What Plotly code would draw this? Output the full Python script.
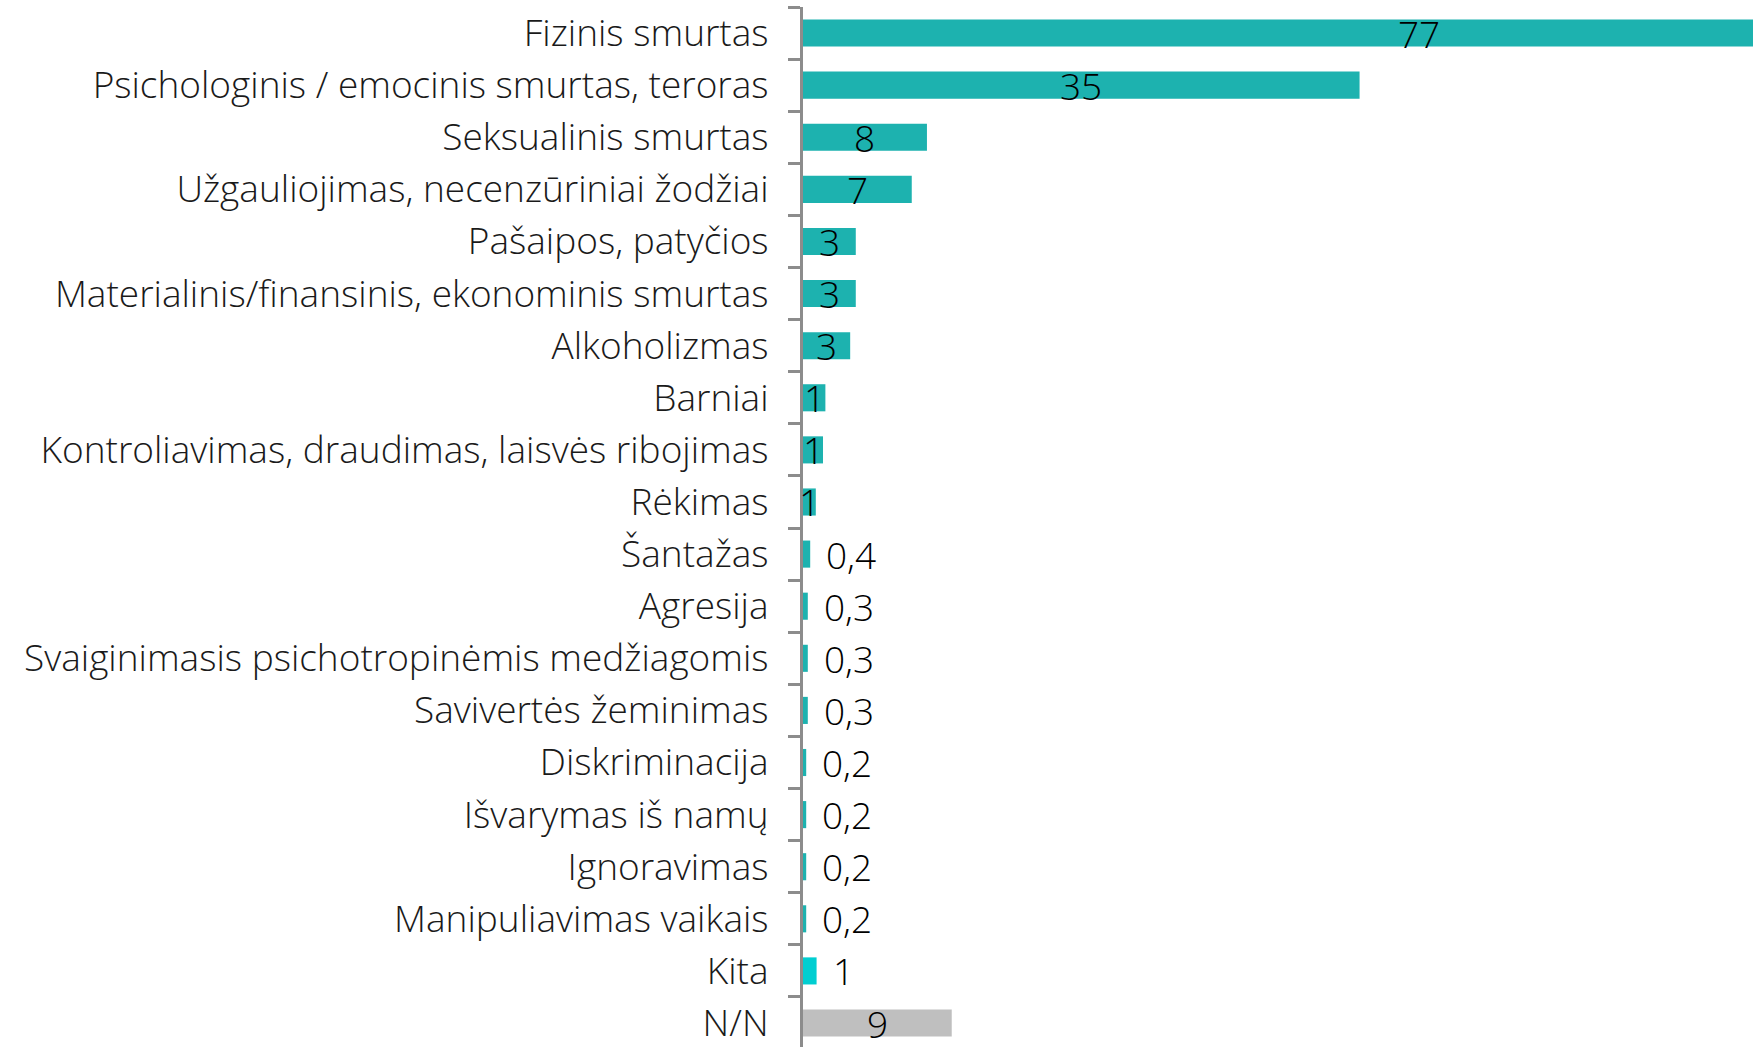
import plotly.graph_objects as go

categories = [
    "Fizinis smurtas",
    "Psichologinis / emocinis smurtas, teroras",
    "Seksualinis smurtas",
    "Užgauliojimas, necenzūriniai žodžiai",
    "Pašaipos, patyčios",
    "Materialinis/finansinis, ekonominis smurtas",
    "Alkoholizmas",
    "Barniai",
    "Kontroliavimas, draudimas, laisvės ribojimas",
    "Rėkimas",
    "Šantažas",
    "Agresija",
    "Svaiginimasis psichotropinėmis medžiagomis",
    "Savivertės žeminimas",
    "Diskriminacija",
    "Išvarymas iš namų",
    "Ignoravimas",
    "Manipuliavimas vaikais",
    "Kita",
    "N/N",
]
values = [77, 34.8, 7.75, 6.8, 3.3, 3.3, 2.95, 1.4, 1.25, 0.8,
          0.45, 0.3, 0.3, 0.3, 0.2, 0.2, 0.2, 0.2, 0.85, 9.3]
value_labels = ["77", "35", "8", "7", "3", "3", "3", "1", "1", "1",
                "0,4", "0,3", "0,3", "0,3", "0,2", "0,2", "0,2", "0,2", "1", "9"]

# styling (not data)
TEAL = "#1DB2AF"
CYAN = "#00CED1"
GREY = "#BFBFBF"
bar_colors = [TEAL] * 18 + [CYAN, GREY]
label_inside = [True] * 10 + [False] * 9 + [True]

FONT = "Open Sans"
FSIZE = 37

fig = go.Figure()
fig.add_trace(go.Bar(
    y=categories,
    x=values,
    orientation="h",
    marker=dict(color=bar_colors, line=dict(width=0)),
    hoverinfo="skip",
))

for cat, v, lab, inside in zip(categories, values, value_labels, label_inside):
    if inside:
        fig.add_annotation(x=v / 2, y=cat, text=lab, showarrow=False,
                           xanchor="center", yanchor="middle",
                           font=dict(family=FONT, size=FSIZE, color="#000000", weight=300))
    else:
        fig.add_annotation(x=v, y=cat, text=lab, showarrow=False,
                           xanchor="left", yanchor="middle", xshift=14,
                           font=dict(family=FONT, size=FSIZE, color="#000000", weight=300))

fig.update_layout(
    template="none",
    width=1753,
    height=1047,
    margin=dict(l=803, r=0, t=7, b=0, autoexpand=False),
    paper_bgcolor="white",
    plot_bgcolor="white",
    showlegend=False,
    bargap=0.48,
    font=dict(family=FONT, size=FSIZE, color="#1a1a1a", weight=300),
    xaxis=dict(range=[0, 59.4], visible=False, fixedrange=True, automargin=False),
    yaxis=dict(
        categoryorder="array",
        categoryarray=categories,
        range=[19.46, -0.5],
        automargin=False,
        showline=True,
        linecolor="#8c8c8c",
        linewidth=3,
        ticks="outside",
        tickson="boundaries",
        ticklen=12,
        tickwidth=3,
        tickcolor="#8c8c8c",
        showgrid=False,
        zeroline=False,
        tickfont=dict(family=FONT, size=FSIZE, color="#1a1a1a", weight=300),
        ticklabelstandoff=24,
        fixedrange=True,
    ),
)

fig.write_html(
    "out.html",
    config={"displayModeBar": False},
    post_script="document.body.style.margin='0';document.body.style.overflow='hidden';",
)
